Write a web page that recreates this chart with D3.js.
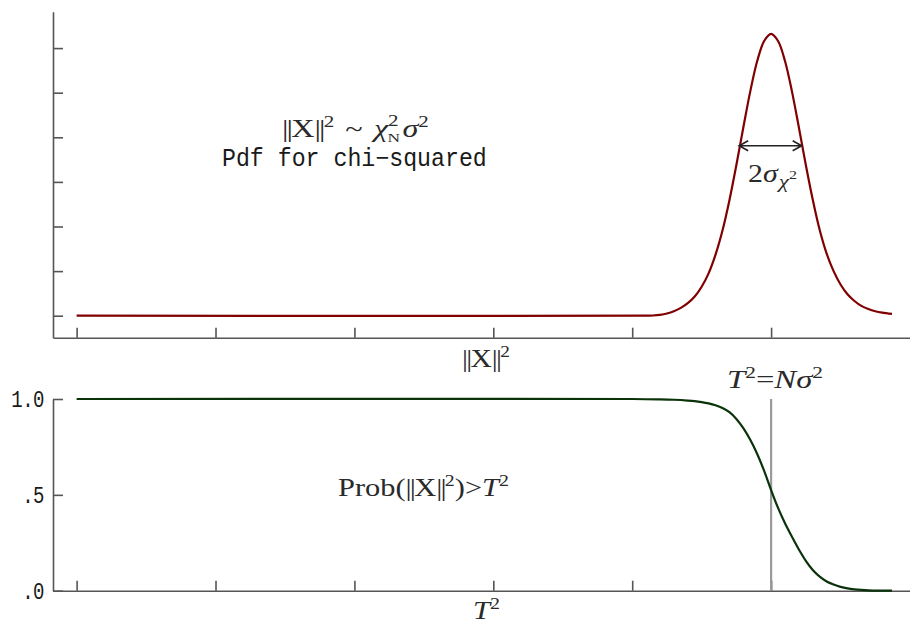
<!DOCTYPE html>
<html>
<head>
<meta charset="utf-8">
<script src="https://cdn.jsdelivr.net/npm/d3@7"></script>
<style>
  html, body { margin: 0; padding: 0; background: #fff; }
  svg { display: block; }
  .mono { font-family: "Liberation Mono", monospace; fill: #1a1a1a; }
  .math { font-family: "Liberation Serif", "Times New Roman", serif; fill: #2a2a2a; }
</style>
</head>
<body>
<svg id="chart" width="910" height="624"></svg>
<script>
// ---- data ----
const xTicks = [0, 1, 2, 3, 4, 5];
const pdfTicks = [0, 1, 2, 3, 4, 5, 6];
const probTicks = [0, 0.5, 1];
const probTickLabels = [".0", ".5", "1.0"];

const pdfX = [0, 4.10, 4.15, 4.20, 4.25, 4.30, 4.35, 4.40, 4.45, 4.50, 4.55, 4.60, 4.65, 4.70, 4.75,
              4.80, 4.85, 4.90, 4.95, 5.00, 5.05, 5.10, 5.15, 5.20, 5.25, 5.30, 5.35, 5.40, 5.45,
              5.50, 5.55, 5.60, 5.65, 5.70, 5.75, 5.80, 5.87];
const pdfY = [0, 0, 0.005, 0.02, 0.05, 0.10, 0.175, 0.28, 0.43, 0.65, 0.95, 1.37, 1.91, 2.59, 3.38,
              4.22, 5.03, 5.71, 6.16, 6.32, 6.16, 5.71, 5.03, 4.22, 3.38, 2.60, 1.92, 1.39, 1.00,
              0.70, 0.48, 0.33, 0.22, 0.15, 0.10, 0.068, 0.04];

const survX = [0, 4.00, 4.20, 4.30, 4.40, 4.45, 4.50, 4.55, 4.60, 4.65, 4.70, 4.75, 4.80, 4.85, 4.90,
               4.95, 5.00, 5.05, 5.10, 5.15, 5.20, 5.25, 5.30, 5.35, 5.40, 5.45, 5.50, 5.55, 5.60,
               5.65, 5.70, 5.80, 5.87];
const survY = [1, 1.000, 0.998, 0.996, 0.992, 0.989, 0.984, 0.977, 0.967, 0.953, 0.931, 0.896, 0.848,
               0.787, 0.713, 0.625, 0.525, 0.432, 0.352, 0.282, 0.215, 0.156, 0.108, 0.073, 0.048,
               0.032, 0.020, 0.012, 0.007, 0.004, 0.002, 0.0005, 0];

const thresholdX = 5;            // T^2 = N sigma^2
const widthArrow = [4.77, 5.22]; // 2 sigma
const widthLevel = 3.81;

// ---- layout ----
const svg = d3.select("#chart");
const axisColor = "#555";

const x = d3.scaleLinear().domain([-0.17, 6.0]).range([53, 910]);
const yTop = d3.scaleLinear().domain([-0.493, 6.816]).range([337.7, 11.7]);
const yBot = d3.scaleLinear().domain([0, 1]).range([590.7, 399]);

function styleAxis(g) {
  g.selectAll("path.domain").attr("stroke", axisColor).attr("stroke-width", 1.6);
  g.selectAll(".tick line").attr("stroke", axisColor).attr("stroke-width", 1.6);
}

// top panel axes
svg.append("g").attr("transform", `translate(53,0)`)
  .call(d3.axisLeft(yTop).tickValues(pdfTicks).tickSizeInner(-10).tickSizeOuter(0).tickFormat(""))
  .call(styleAxis);
svg.append("g").attr("transform", `translate(0,${yTop.range()[0]})`)
  .call(d3.axisBottom(x).tickValues(xTicks).tickSizeInner(-10).tickSizeOuter(0).tickFormat(""))
  .call(styleAxis);

// bottom panel axes
const yAxB = svg.append("g").attr("transform", `translate(53,0)`)
  .call(d3.axisLeft(yBot).tickValues(probTicks).tickSizeInner(-10).tickSizeOuter(0).tickPadding(9)
        .tickFormat((d, i) => probTickLabels[i]))
  .call(styleAxis);
yAxB.selectAll("text")
  .attr("font-family", "Liberation Mono, monospace").attr("font-size", 19).attr("fill", "#1a1a1a")
  .attr("letter-spacing", -0.5)
  .attr("dy", "0.3em")
  .attr("transform", "scale(1,1.3)");
svg.append("g").attr("transform", `translate(0,${yBot.range()[0]})`)
  .call(d3.axisBottom(x).tickValues(xTicks).tickSizeInner(-10).tickSizeOuter(0).tickFormat(""))
  .call(styleAxis);

// curves
const smooth = d3.curveCatmullRom.alpha(0.5);
const pdfLine = d3.line().x((d, i) => x(pdfX[i])).y(d => yTop(d)).curve(smooth);
svg.append("path").attr("d", pdfLine(pdfY)).attr("fill", "none")
  .attr("stroke", "#800000").attr("stroke-width", 2.2);

// threshold line
svg.append("line")
  .attr("x1", x(thresholdX)).attr("x2", x(thresholdX))
  .attr("y1", yBot(1)).attr("y2", yBot(0))
  .attr("stroke", "#9a9a9a").attr("stroke-width", 2.2);

const survLine = d3.line().x((d, i) => x(survX[i])).y(d => yBot(d)).curve(smooth);
svg.append("path").attr("d", survLine(survY)).attr("fill", "none")
  .attr("stroke", "#0a330a").attr("stroke-width", 2.2);

// width arrow
const ax1 = x(widthArrow[0]), ax2 = x(widthArrow[1]), ay = yTop(widthLevel);
svg.append("path")
  .attr("d", `M${ax1},${ay}H${ax2}M${ax1 + 9},${ay - 5}L${ax1},${ay}L${ax1 + 9},${ay + 5}` +
             `M${ax2 - 9},${ay - 5}L${ax2},${ay}L${ax2 - 9},${ay + 5}`)
  .attr("fill", "none").attr("stroke", "#222").attr("stroke-width", 1.6);

// ---- text ----
// fit a text horizontally between x0 and x1, with its baseline at by
function fit(sel, x0, x1, by, sy) {
  const b = sel.node().getBBox();
  const sx = (x1 - x0) / b.width;
  sel.attr("transform", `translate(${x0 - b.x * sx},${by}) scale(${sx},${sy || 1})`);
}

function mathText(parts, size) {
  const t = svg.append("text").attr("class", "math").attr("x", 0).attr("y", 0)
    .attr("font-size", size);
  parts.forEach(p => {
    const s = t.append("tspan").text(p.t);
    if (p.it) s.attr("font-style", "italic");
    if (p.fs) s.attr("font-size", p.fs);
    if (p.dy) s.attr("dy", p.dy);
    if (p.dx) s.attr("dx", p.dx);
    if (p.ls !== undefined) s.attr("letter-spacing", p.ls);
  });
  return t;
}

const MS = 26, SUP = 17, SY = 0.95;

// ||X||^2 ~ chi^2_N sigma^2
fit(mathText([
  {t: "||", ls: -1.5}, {t: "X"}, {t: "||", ls: -1.5}, {t: "2", fs: SUP, dy: -11},
  {t: "~", dx: 9, dy: 11}, {t: "χ", it: true, dx: 9}, {t: "2", fs: SUP, dy: -12},
  {t: "N", fs: 14, dx: -9, dy: 17}, {t: "σ", it: true, dx: 2, dy: -5}, {t: "2", fs: SUP, dy: -11}
], MS), 282, 429, 137, SY);

fit(svg.append("text").attr("class", "mono").attr("x", 0).attr("y", 0)
  .attr("font-size", 22).text("Pdf for chi\u2212squared"), 222, 487, 166, 1.14);

// 2 sigma_chi^2
fit(mathText([
  {t: "2"}, {t: "σ", it: true}, {t: "χ", it: true, fs: 20, dx: 1, dy: 6}, {t: "2", fs: 14, dy: -9}
], MS), 748, 797, 182, SY);

// x-axis label top
fit(mathText([
  {t: "||", ls: -1.5}, {t: "X"}, {t: "||", ls: -1.5}, {t: "2", fs: SUP, dy: -11}
], MS), 462, 510, 367, SY);

// T^2 = N sigma^2
fit(mathText([
  {t: "T", it: true}, {t: "2", fs: SUP, dy: -11}, {t: "=", dy: 11}, {t: "N", it: true},
  {t: "σ", it: true}, {t: "2", fs: SUP, dy: -11}
], MS), 727, 823, 388, SY);

// Prob(||X||^2) > T^2
fit(mathText([
  {t: "Prob("}, {t: "||", ls: -1.5}, {t: "X"}, {t: "||", ls: -1.5}, {t: "2", fs: SUP, dy: -11},
  {t: ")>", dy: 11}, {t: "T", it: true}, {t: "2", fs: SUP, dy: -11}
], MS), 338, 509, 496, SY);

// x-axis label bottom
fit(mathText([
  {t: "T", it: true}, {t: "2", fs: SUP, dy: -11}
], MS), 473, 500, 619, SY);
</script>
</body>
</html>
